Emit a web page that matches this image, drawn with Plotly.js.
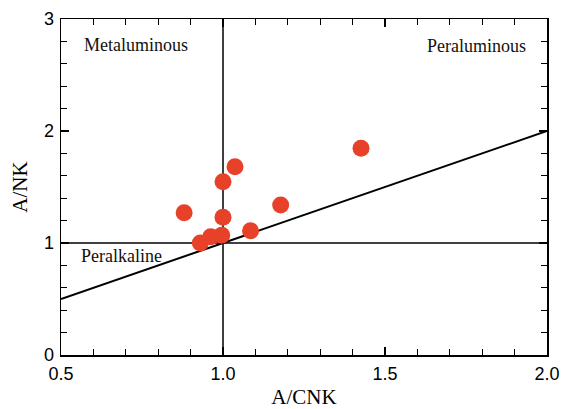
<!DOCTYPE html>
<html><head><meta charset="utf-8">
<script src="https://cdn.plot.ly/plotly-3.0.1.min.js"></script>
<style>html,body{margin:0;padding:0;background:#fff}</style>
</head><body><div id="chart" style="width:561px;height:409px"></div>
<script>
const acnk = [0.88, 0.93, 0.962, 0.996, 1.0, 1.0, 1.037, 1.085, 1.178, 1.426];
const ank  = [1.27, 1.0, 1.056, 1.07, 1.23, 1.547, 1.68, 1.11, 1.34, 1.845];
const refX = [0.5, 2.0];
const refY = [0.5, 2.0];
const regionLabels = ["Metaluminous", "Peraluminous", "Peralkaline"];
const labelX = [0.565, 1.94, 0.555];
const labelY = [2.77, 2.76, 0.88];

const serif = "Liberation Serif, Times New Roman, serif";
const sans = "Liberation Sans, Arial, sans-serif";

const traces = [
  {x: refX, y: refY, mode: "lines", line: {color: "#000", width: 2}, hoverinfo: "skip"},
  {x: [1, 1], y: [0, 3], mode: "lines", line: {color: "#000", width: 1.5}, hoverinfo: "skip"},
  {x: [0.5, 2], y: [1, 1], mode: "lines", line: {color: "#000", width: 1.5}, hoverinfo: "skip"},
  {x: acnk, y: ank, mode: "markers", marker: {color: "#e8412a", size: 17, line: {width: 0}}}
];

const annotations = regionLabels.map((t, i) => ({
  x: labelX[i], y: labelY[i], text: t, showarrow: false,
  xanchor: i === 1 ? "right" : "left", yanchor: "middle",
  font: {family: serif, size: 18, color: "#111"}
}));

const axisCommon = {
  showgrid: false, zeroline: false, showline: true, linecolor: "#000", linewidth: 1.5,
  mirror: "allticks", ticks: "inside", tickcolor: "#000", tickwidth: 1.2,
  tickfont: {family: sans, size: 18, color: "#000"}
};

const layout = {
  width: 561, height: 409,
  margin: {l: 61, r: 14, t: 19, b: 54},
  paper_bgcolor: "#fff", plot_bgcolor: "#fff",
  showlegend: false,
  xaxis: Object.assign({}, axisCommon, {
    range: [0.5, 2.0], tickvals: [0.5, 1.0, 1.5, 2.0], ticktext: ["0.5", "1.0", "1.5", "2.0"], ticklen: 8,
    ticklabelstandoff: 2,
    minor: {dtick: 0.1, ticks: "inside", ticklen: 6, tickcolor: "#000", tickwidth: 1, showgrid: false},
    title: {text: "A/CNK", font: {family: serif, size: 21, color: "#000"}, standoff: 6}
  }),
  yaxis: Object.assign({}, axisCommon, {
    range: [0, 3], tickvals: [0, 1, 2, 3], ticklen: 8,
    ticklabelstandoff: 2,
    minor: {dtick: 0.2, ticks: "inside", ticklen: 6, tickcolor: "#000", tickwidth: 1, showgrid: false},
    title: {text: "A/NK", font: {family: serif, size: 21, color: "#000"}, standoff: 10}
  }),
  annotations: annotations
};

Plotly.newPlot("chart", traces, layout, {staticPlot: true, displayModeBar: false});
</script></body></html>
